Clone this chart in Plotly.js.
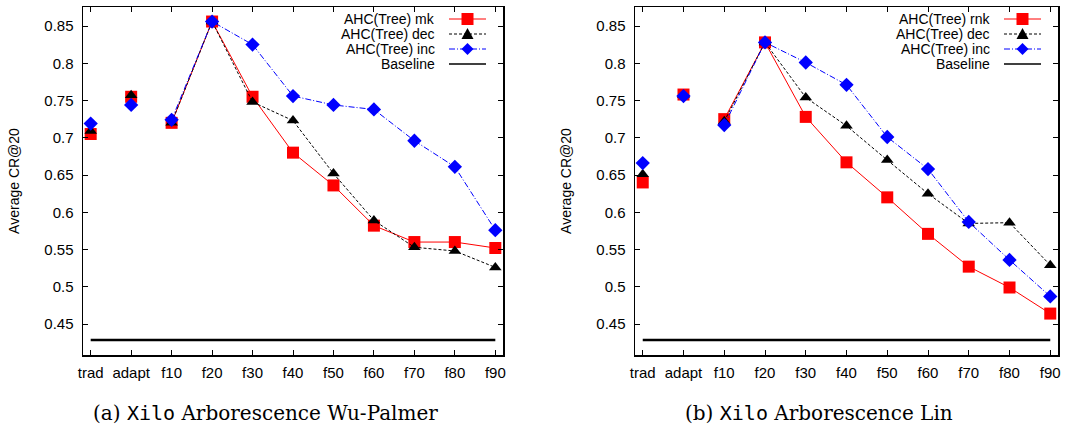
<!DOCTYPE html>
<html>
<head>
<meta charset="utf-8">
<script src="https://cdn.plot.ly/plotly-3.0.1.min.js"></script>
<style>html,body{margin:0;padding:0;background:#fff;}#chart{width:1077px;height:430px;}</style>
</head>
<body>
<div id="chart"></div>
<script>
// ---- data ----
const categories = ["trad","adapt","f10","f20","f30","f40","f50","f60","f70","f80","f90"];
const yTickVals = [0.45,0.5,0.55,0.6,0.65,0.7,0.75,0.8,0.85];

// (a) Wu-Palmer
const wpNames = ["AHC(Tree) mk","AHC(Tree) dec","AHC(Tree) inc","Baseline"];
const wpRnk = [0.705,0.755,0.720,0.856,0.755,0.680,0.636,0.582,0.560,0.560,0.552];
const wpDec = [0.709,0.757,0.720,0.856,0.748,0.723,0.652,0.589,0.553,0.548,0.526];
const wpInc = [0.719,0.744,0.724,0.856,0.825,0.756,0.744,0.738,0.696,0.661,0.576];

// (b) Lin
const linNames = ["AHC(Tree) rnk","AHC(Tree) dec","AHC(Tree) inc","Baseline"];
const linRnk = [0.640,0.758,0.725,0.828,0.728,0.667,0.620,0.571,0.527,0.499,0.464];
const linDec = [0.651,0.757,0.722,0.828,0.754,0.716,0.670,0.625,0.585,0.586,0.529];
const linInc = [0.666,0.756,0.717,0.828,0.801,0.771,0.701,0.658,0.587,0.536,0.487];

const baselineValue = 0.4285;
const captions = ["(a) <span style=\"font-family:'DejaVu Sans Mono',monospace\">Xilo</span> Arborescence Wu-Palmer",
                  "(b) <span style=\"font-family:'DejaVu Sans Mono',monospace\">Xilo</span> Arborescence Lin"];
const yTitle = "Average CR@20";

// ---- styles ----
const W = 1077, H = 430;
const styles = [
  {color:"#ff0000", dash:"solid", symbol:"square", size:12},
  {color:"#000000", dash:"3px,2px", symbol:"triangle-up", size:11},
  {color:"#0000ff", dash:"6px,2px,1px,2px", symbol:"diamond", size:11}
];
const FONT = "Liberation Sans, Arial, sans-serif";
const panels = [
  {xa:"x", ya:"y", names: wpNames, series:[wpRnk, wpDec, wpInc], left:83, right:503, caption:captions[0], cx:265},
  {xa:"x2", ya:"y2", names: linNames, series:[linRnk, linDec, linInc], left:635, right:1058, caption:captions[1], cx:819}
];
const TOP = 7, BOTTOM = 355;

const traces = [];
panels.forEach(p => {
  p.series.forEach((vals, i) => {
    const st = styles[i];
    traces.push({
      x: categories.slice(0,2), y: vals.slice(0,2), xaxis: p.xa, yaxis: p.ya,
      mode: "markers", showlegend: false,
      marker: {symbol: st.symbol, size: st.size, color: st.color}
    });
    traces.push({
      x: categories.slice(2), y: vals.slice(2), xaxis: p.xa, yaxis: p.ya,
      mode: "lines+markers", name: p.names[i], showlegend: false,
      line: {color: st.color, width: 1, dash: st.dash},
      marker: {symbol: st.symbol, size: st.size, color: st.color}
    });
  });
  traces.push({
    x: [categories[0], categories[categories.length-1]],
    y: [baselineValue, baselineValue], xaxis: p.xa, yaxis: p.ya,
    mode: "lines", name: p.names[3], showlegend: false,
    line: {color: "#000", width: 2.5}
  });
});

function xAxis(domain, anchor) {
  return {
    domain: domain, anchor: anchor, type: "category",
    categoryorder: "array", categoryarray: categories,
    range: [-0.19, 10.19],
    showgrid: false, zeroline: false,
    showline: true, linecolor: "#000", linewidth: 1.5, mirror: "allticks",
    ticks: "inside", ticklen: 5, tickcolor: "#000", tickwidth: 1,
    ticklabelstandoff: 3,
    tickfont: {family: FONT, size: 15, color: "#000"}
  };
}
function yAxis(domain, anchor) {
  return {
    domain: domain, anchor: anchor,
    range: [0.4084, 0.8755],
    tickvals: yTickVals,
    showgrid: false, zeroline: false,
    showline: true, linecolor: "#000", linewidth: 1.5, mirror: "allticks",
    ticks: "inside", ticklen: 5, tickcolor: "#000", tickwidth: 1,
    ticklabelstandoff: 5,
    tickfont: {family: FONT, size: 15, color: "#000"},
    title: {text: yTitle, font: {family: FONT, size: 14, color: "#000"}, standoff: 21}
  };
}

// ---- legend drawn as shapes + annotations (gnuplot style: text right, sample on the right) ----
const px = x => x / W, py = y => 1 - y / H;
const shapes = [], annotations = [];
panels.forEach(p => {
  const textRight = p.right - 66, l0 = p.right - 54, l1 = p.right - 17, mc = (l0 + l1) / 2;
  const rows = [19, 34, 49, 64];
  p.names.forEach((nm, i) => {
    const y = rows[i];
    annotations.push({text: nm, xref:"paper", yref:"paper", x: px(textRight), y: py(y),
      xanchor:"right", yanchor:"middle", showarrow:false,
      font:{family: FONT, size: 14, color:"#000"}});
    if (i < 3) {
      const st = styles[i];
      shapes.push({type:"line", xref:"paper", yref:"paper", x0:px(l0), x1:px(l1), y0:py(y), y1:py(y),
        line:{color: st.color, width:1, dash: st.dash}});
      let path;
      if (st.symbol === "square") {
        const s = 6;
        path = `M${px(mc-s)},${py(y-s)} L${px(mc+s)},${py(y-s)} L${px(mc+s)},${py(y+s)} L${px(mc-s)},${py(y+s)} Z`;
      } else if (st.symbol === "triangle-up") {
        path = `M${px(mc)},${py(y-6)} L${px(mc+6)},${py(y+5)} L${px(mc-6)},${py(y+5)} Z`;
      } else {
        path = `M${px(mc)},${py(y-6)} L${px(mc+6)},${py(y)} L${px(mc)},${py(y+6)} L${px(mc-6)},${py(y)} Z`;
      }
      shapes.push({type:"path", xref:"paper", yref:"paper", path: path,
        fillcolor: st.color, line:{color: st.color, width: 0}});
    } else {
      shapes.push({type:"line", xref:"paper", yref:"paper", x0:px(l0), x1:px(l1), y0:py(y), y1:py(y),
        line:{color:"#000", width:1.5}});
    }
  });
  annotations.push({text: p.caption, xref:"paper", yref:"paper", x: px(p.cx), y: py(413),
    showarrow:false, xanchor:"center", yanchor:"middle",
    font:{family:"DejaVu Serif, Liberation Serif, serif", size: 20, color:"#000"}});
});

const yDom = [1 - BOTTOM/H, 1 - TOP/H];
const layout = {
  width: W, height: H,
  margin: {l: 0, r: 0, t: 0, b: 0},
  paper_bgcolor: "#fff", plot_bgcolor: "#fff",
  xaxis: xAxis([83/W, 503/W], "y"),
  yaxis: yAxis(yDom, "x"),
  xaxis2: xAxis([635/W, 1058/W], "y2"),
  yaxis2: yAxis(yDom, "x2"),
  shapes: shapes,
  annotations: annotations,
  showlegend: false
};

Plotly.newPlot("chart", traces, layout, {displayModeBar: false, staticPlot: true});
</script>
</body>
</html>
